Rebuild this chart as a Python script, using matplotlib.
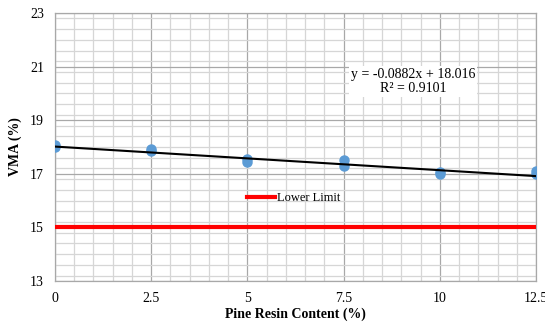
import matplotlib.pyplot as plt
from matplotlib.ticker import MultipleLocator, FixedLocator

plt.rcParams['font.family'] = ['Liberation Serif', 'DejaVu Serif']

# measured VMA for each resin content (two specimens each)
resin_content = [0, 0, 2.5, 2.5, 5, 5, 7.5, 7.5, 10, 10, 12.5, 12.5]
vma = [18.0, 18.06, 17.85, 17.93, 17.45, 17.55, 17.3, 17.5, 17.0, 17.08, 16.98, 17.1]

# linear trend fitted to the data
slope = -0.0882
intercept = 18.016
r_squared = 0.9101

lower_limit = 15
x_ticks = [0, 2.5, 5, 7.5, 10, 12.5]
x_tick_labels = ['0', '2.5', '5', '7.5', '10', '12.5']
y_ticks = [13, 15, 17, 19, 21, 23]

fig = plt.figure(figsize=(5.45, 3.27), dpi=100)
ax = fig.add_axes([0.1009, 0.1407, 0.8826, 0.8195])

ax.set_xlim(0, 12.5)
ax.set_ylim(13, 23)
ax.xaxis.set_major_locator(FixedLocator(x_ticks))
ax.set_xticklabels(x_tick_labels)
ax.yaxis.set_major_locator(FixedLocator(y_ticks))
ax.xaxis.set_minor_locator(MultipleLocator(0.5))
ax.yaxis.set_minor_locator(MultipleLocator(0.4))
ax.grid(which='minor', color='#d6d6d6', linewidth=0.9)
ax.grid(which='major', color='#a8a8a8', linewidth=0.9)
ax.set_axisbelow(True)
ax.tick_params(which='both', length=0, labelsize=10, pad=8)
for side in ['top', 'right', 'bottom', 'left']:
    ax.spines[side].set_color('#a8a8a8')
    ax.spines[side].set_linewidth(0.9)

ax.axhline(lower_limit, color='#ff0000', linewidth=3, label='Lower Limit', zorder=3)

ax.plot(resin_content, vma, 'o', color='#5b9bd5', markersize=6.5, zorder=4)

x_fit = [min(resin_content), max(resin_content)]
y_fit = [slope * x + intercept for x in x_fit]
ax.plot(x_fit, y_fit, color='black', linewidth=1.5, zorder=5)

ax.text(9.3, 20.45, f'y = {slope}x + {intercept}\nR² = {r_squared}',
        ha='center', va='center', fontsize=10, linespacing=1.1,
        bbox=dict(facecolor='white', edgecolor='none', pad=1.5), zorder=6)

leg = ax.legend(loc='center left', bbox_to_anchor=(0.375, 0.31), frameon=False,
                fontsize=9, handlelength=2.3, handletextpad=0.1)

ax.set_xlabel('Pine Resin Content (%)', fontsize=10, fontweight='bold', labelpad=2)
ax.set_ylabel('VMA (%)', fontsize=10, fontweight='bold', labelpad=6)

fig.savefig('out.png', dpi=100)
